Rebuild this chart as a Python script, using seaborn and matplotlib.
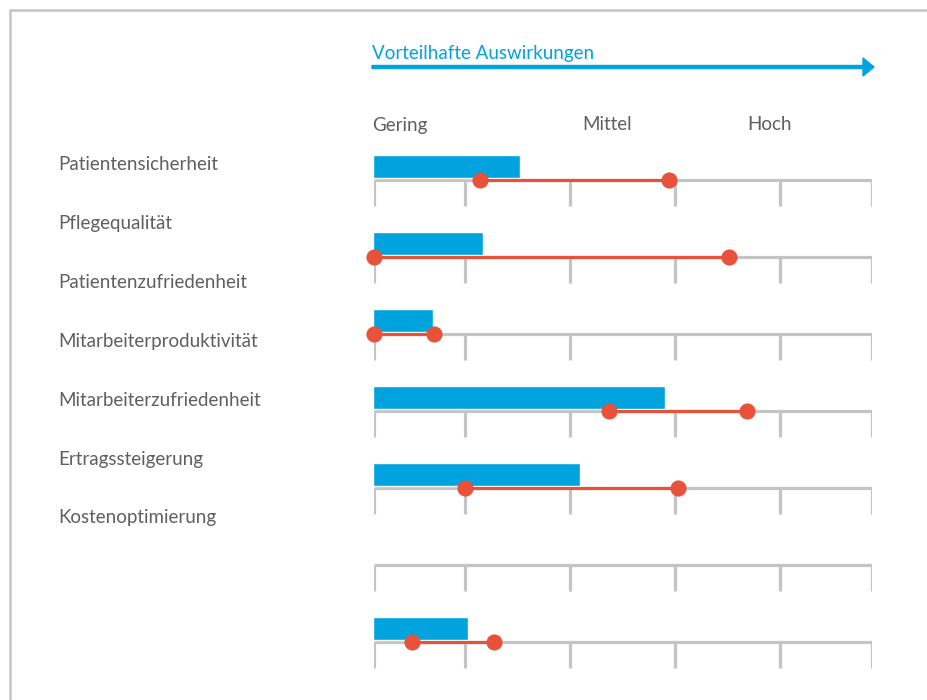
import numpy as np
import matplotlib
matplotlib.use("Agg")
import matplotlib.pyplot as plt
import seaborn as sns
import pandas as pd
from matplotlib.lines import Line2D

# categories on the left (as placed in the source graphic)
labels = ["Patientensicherheit", "Pflegequalität", "Patientenzufriedenheit",
          "Mitarbeiterproduktivität", "Mitarbeiterzufriedenheit",
          "Ertragssteigerung", "Kostenoptimierung"]
# blue bar length and red range (low/high), scale 0..100
bar_vals = [29.3, 21.9, 11.8, 58.4, 41.4, np.nan, 18.9]
range_lo = [21.3, 0.0, 0.0, 47.2, 18.3, np.nan, 7.6]
range_hi = [59.2, 71.3, 12.0, 74.9, 61.0, np.nan, 24.1]
tick_vals = [0, 18.3, 39.4, 60.4, 81.5, 100]
scale_labels = ["Gering", "Mittel", "Hoch"]
scale_pos = [0, 46.8, 79.5]
header = "Vorteilhafte Auswirkungen"

BLUE = "#00A3DE"
RED = "#E8523A"
GREY = "#C2C4C6"
TXT = "#5E5F61"

sns.set_theme(style="white")
plt.rcParams['font.family'] = ['Lato', 'DejaVu Sans']
FS = 13.5

W, H = 928, 700
fig = plt.figure(figsize=(W / 100, H / 100), dpi=100)
fig.patch.set_facecolor("white")

# axes spans track area horizontally, full height vertically
x0, x1 = 374, 872
ax = fig.add_axes([x0 / W, 0, (x1 - x0) / W, 1])
ax.set_xlim(0, 100)
row0, step = 180, 77
ax.set_ylim((H - row0) / step, -row0 / step)
ax.axis("off")

rows = np.arange(len(labels))
df = pd.DataFrame({"row": rows, "bar": bar_vals, "lo": range_lo, "hi": range_hi})

# track lines + ticks
ax.hlines(rows, 0, 100, color=GREY, lw=2.3, zorder=1)
for r in rows:
    ax.vlines(tick_vals, r, r + 0.34, color=GREY, lw=2.3, zorder=1)

# blue bars
b = df.dropna()
ax.barh(b["row"] - 0.33, b["bar"] + 0.3, height=0.31, left=-0.3, align="edge",
        color=BLUE, zorder=2)

# red ranges
ax.hlines(b["row"], b["lo"], b["hi"], color=RED, lw=2.3, zorder=3)
pts = pd.concat([b[["row", "lo"]].rename(columns={"lo": "v"}),
                 b[["row", "hi"]].rename(columns={"hi": "v"})])
sns.scatterplot(data=pts, x="v", y="row", color=RED, s=135, linewidth=0,
                ax=ax, zorder=4, clip_on=False, legend=False)

# scale labels
trans = ax.get_xaxis_transform()
for lab, p, ha in zip(scale_labels, scale_pos, ["left", "center", "center"]):
    ax.text(p - (0.4 if ha == "left" else 0), 1 - 125 / H, lab, transform=trans,
            ha=ha, va="center", fontsize=FS, color=TXT)

# header and arrow
fig.text(372 / W, 1 - 54 / H, header, ha="left", va="center",
         fontsize=FS, color=BLUE)
fig.patches.append(matplotlib.patches.FancyArrow(
    372 / W, 1 - 67 / H, 502 / W, 0, width=3 / H, head_width=18 / H,
    head_length=11 / W, length_includes_head=True, color=BLUE,
    transform=fig.transFigure, figure=fig))

# category labels on the left
for i, lab in enumerate(labels):
    fig.text(58 / W, 1 - (165 + 58.8 * i) / H, lab, ha="left", va="center",
             fontsize=FS, color=TXT)

# frame (top and left edges)
fig.add_artist(Line2D([10 / W, 1], [1 - 10 / H, 1 - 10 / H], color=GREY,
                      lw=1.8, transform=fig.transFigure))
fig.add_artist(Line2D([10 / W, 10 / W], [0, 1 - 10 / H], color=GREY,
                      lw=1.8, transform=fig.transFigure))

fig.savefig("out.png", dpi=100, facecolor="white")
